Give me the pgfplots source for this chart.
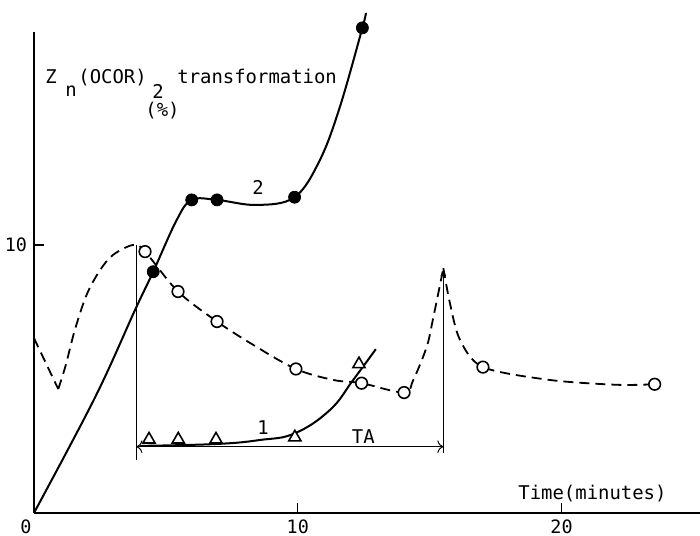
\documentclass[border=0pt]{standalone}
\usepackage{fontspec}
\setmainfont{DejaVu Sans Mono}
\usepackage{pgfplots}
\pgfplotsset{compat=1.18}
\usetikzlibrary{arrows.meta}
\begin{document}
\begin{tikzpicture}
\begin{axis}[
  x=13.19bp, y=13.4bp,
  xmin=0, xmax=25.25, ymin=0, ymax=17.95,
  axis x line=bottom, axis y line=left,
  axis line style={-, line width=0.75bp},
  clip=false,
  xtick={10,20}, ytick={10},
  extra x ticks={0},
  extra x tick style={xticklabel style={xshift=-4bp}},
  tick align=inside, major tick length=5bp,
  tick style={line width=0.6bp, black},
  ticklabel style={font=\fontsize{9.25}{10}\selectfont},
  /pgf/number format/assume math mode=true,
]
% curve 2 (filled circles)
\addplot[black, line width=1bp, smooth, tension=0.6] coordinates {
  (0,0) (2.31,4.3) (3.83,7.57) (4.52,9.0) (5.41,10.93) (5.98,11.68)
  (6.94,11.68) (8.44,11.49) (9.88,11.78) (10.84,13.17) (11.6,15.16)
  (12.45,18.1) (12.58,18.65)};
% curve 1 (triangles)
\addplot[black, line width=1bp, smooth, tension=0.7] coordinates {
  (4.02,2.5) (6.9,2.57) (8.57,2.72) (9.89,2.97) (11.22,3.84) (12.1,4.96) (12.96,6.11)};
% dashed curve (open circles)
\addplot[black, line width=0.9bp, dash pattern=on 5bp off 3bp] coordinates {
  (0,6.52) (0.92,4.62)};
\addplot[black, line width=0.9bp, dash pattern=on 5bp off 3bp, smooth, tension=0.55] coordinates {
  (0.92,4.62) (1.2,5.5) (1.55,6.83) (2.0,8.15) (2.5,9.05) (3.0,9.63) (3.77,10.0)
  (4.21,9.75) (5.46,8.26) (6.94,7.14) (8.31,6.27) (9.93,5.37) (11.35,4.96)
  (12.42,4.84) (14.03,4.49) (14.38,4.96) (14.89,6.2) (15.12,7.2) (15.52,9.13)};
\addplot[black, line width=0.9bp, dash pattern=on 5bp off 3bp, smooth, tension=0.5] coordinates {
  (15.52,9.13) (15.77,7.82) (16.15,6.46) (17.02,5.44) (19.56,4.96) (22.09,4.78) (23.53,4.80)};
% markers
\addplot[only marks, mark=*, mark size=3bp, black] coordinates {
  (4.52,9.0) (5.98,11.68) (6.94,11.68) (9.88,11.78) (12.45,18.1)};
\addplot[only marks, mark=*, mark size=2.9bp, mark options={draw=black, fill=white, line width=0.8bp}] coordinates {
  (4.21,9.75) (5.46,8.26) (6.94,7.14) (9.93,5.37) (12.42,4.84) (14.03,4.49) (17.02,5.44) (23.53,4.80)};
\addplot[only marks, mark=triangle*, mark size=3.5bp, mark options={draw=black, fill=white, line width=0.8bp}] coordinates {
  (4.36,2.74) (5.47,2.74) (6.9,2.74) (9.89,2.82) (12.32,5.55)};
% TA construction
\draw[line width=0.5bp] (axis cs:3.88,1.98) -- (axis cs:3.88,10.0);
\draw[line width=0.6bp, -{Latex[length=4bp,width=3bp]}] (axis cs:15.52,2.25) -- (axis cs:15.52,9.13);
\draw[line width=0.5bp, {To[length=3bp]}-{To[length=3bp]}] (axis cs:3.88,2.47) -- (axis cs:15.52,2.47);
% labels
\begin{scope}[every node/.style={inner sep=0pt, font=\fontsize{9.5}{11}\selectfont}]
\node[anchor=base west] at (axis cs:0.42,16.01) {Z};
\node[anchor=base west] at (axis cs:1.175,15.53) {n};
\node[anchor=base west] at (axis cs:1.668,16.01) {(OCOR)};
\node[anchor=base west] at (axis cs:4.473,15.45) {2};
\node[anchor=base west] at (axis cs:5.42,16.01) {transformation};
\node[anchor=base west] at (axis cs:4.21,14.78) {(\%)};
\node[anchor=base west] at (axis cs:18.35,0.485) {Time(minutes)};
\node[anchor=base west] at (axis cs:12.04,2.6) {TA};
\node[anchor=base west] at (axis cs:8.45,2.91) {1};
\node[anchor=base west] at (axis cs:8.26,11.87) {2};
\end{scope}
\coordinate (bl) at (axis cs:-1.289,-0.858);
\coordinate (tr) at (axis cs:25.25,19.14);
\end{axis}
\pgfresetboundingbox
\path[use as bounding box] (bl) rectangle (tr);
\end{tikzpicture}
\end{document}
